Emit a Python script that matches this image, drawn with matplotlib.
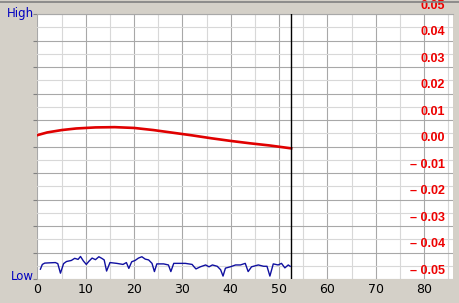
import matplotlib
matplotlib.use('Agg')
import matplotlib.pyplot as plt
from matplotlib.lines import Line2D
import numpy as np

# red trace (right axis, -0.05 .. 0.05)
red_x = [0, 2, 5, 8, 12, 16, 20, 24, 28, 32, 36, 40, 44, 48, 52.5]
red_y = [0.0043, 0.0053, 0.0062, 0.0068, 0.0072, 0.0073, 0.0070, 0.0062,
         0.0052, 0.0042, 0.0031, 0.0021, 0.0012, 0.0004, -0.0007]

# blue trace (left axis, Low=0 .. High=1)
blue_x = [0.6, 1.0, 1.5, 2.5, 3.7, 4.2, 4.75, 5.4, 6.0, 7.0, 7.7, 8.4, 8.9,
          9.5, 10.1, 10.6, 11.3, 12.0, 12.7, 13.3, 13.8, 14.3, 15.0, 16.4,
          17.7, 18.4, 18.9, 19.5, 20.2, 20.9, 21.6, 22.3, 23.0, 23.7, 24.2,
          24.7, 26.1, 27.1, 27.6, 28.2, 29.2, 30.6, 32.0, 32.4, 32.8, 33.7,
          34.8, 35.5, 36.2, 37.2, 37.9, 38.4, 38.9, 39.9, 41.0, 42.0, 43.0,
          43.6, 44.3, 45.7, 46.8, 47.5, 48.1, 48.8, 49.8, 50.5, 51.2, 51.9, 52.3]
blue_y = [0.037, 0.055, 0.060, 0.061, 0.062, 0.058, 0.022, 0.058, 0.066,
          0.070, 0.078, 0.074, 0.085, 0.068, 0.055, 0.066, 0.079, 0.073,
          0.084, 0.078, 0.072, 0.030, 0.062, 0.059, 0.055, 0.062, 0.040,
          0.065, 0.070, 0.079, 0.084, 0.075, 0.072, 0.059, 0.028, 0.057,
          0.057, 0.053, 0.028, 0.059, 0.059, 0.059, 0.055, 0.046, 0.038,
          0.046, 0.053, 0.046, 0.053, 0.048, 0.035, 0.011, 0.041, 0.046,
          0.053, 0.053, 0.059, 0.028, 0.046, 0.053, 0.048, 0.048, 0.011,
          0.057, 0.053, 0.059, 0.042, 0.053, 0.048]

cursor_x = 52.5
x_ticks = [0, 10, 20, 30, 40, 50, 60, 70, 80]
right_ticks = [0.05, 0.04, 0.03, 0.02, 0.01, 0.00, -0.01, -0.02, -0.03, -0.04, -0.05]

BG = '#d4d0c8'
W, H = 460, 303

fig = plt.figure(figsize=(W / 100, H / 100), dpi=100, facecolor=BG)
ax = fig.add_axes([37.5 / W, (H - 279) / H, (453 - 37.5) / W, (279 - 14) / H])
ax.set_facecolor('white')
ax.set_xlim(0, 86)
ax.set_ylim(-0.05, 0.05)

# grid: major darker, minor lighter
ax.set_xticks(x_ticks)
ax.set_xticks(np.arange(5, 86, 10), minor=True)
ax.set_yticks(right_ticks)
ax.set_yticks(np.arange(-0.045, 0.05, 0.01), minor=True)
ax.grid(True, which='major', color='#a8a8a8', linewidth=0.8)
ax.grid(True, which='minor', color='#d8d8d8', linewidth=0.8)
ax.tick_params(axis='x', which='major', length=0, labelsize=9, pad=3)
ax.tick_params(axis='x', which='minor', length=0)
ax.tick_params(axis='y', which='major', length=3, color='#808080',
               labelleft=False)
ax.tick_params(axis='y', which='minor', length=0)
for s in ax.spines.values():
    s.set_visible(False)
ax.spines['top'].set_visible(True)
ax.spines['top'].set_color('#a8a8a8')

# right scale labels drawn inside the plot
for v in right_ticks:
    if v < 0:
        lab = '\u2013 %.2f' % abs(v)
    else:
        lab = '%.2f' % v
    ax.annotate(lab, xy=(84.3, v), xytext=(0, 1.5), textcoords='offset points',
                ha='right', va='bottom', color='#ee0000', fontsize=9,
                fontweight='bold',
                family=['Liberation Sans Narrow', 'Liberation Sans'],
                annotation_clip=False)

ax.plot(red_x, red_y, color='#e00000', linewidth=1.9, zorder=3)
ax.axvline(cursor_x, color='black', linewidth=1.0, zorder=4)

ax2 = ax.twinx()
ax2.set_ylim(0, 1)
ax2.set_yticks([])
for s in ax2.spines.values():
    s.set_visible(False)
ax2.plot(blue_x, blue_y, color='#1010a0', linewidth=1.0, zorder=3)

fig.text(34 / W, 1 - 13 / H, 'High', color='#0000c0', fontsize=8.5,
         ha='right', va='center')
fig.text(34 / W, 1 - 277 / H, 'Low', color='#0000c0', fontsize=8.5,
         ha='right', va='center')

fig.add_artist(Line2D([0, 1], [1 - 1.5 / H, 1 - 1.5 / H], color='#808080',
                      linewidth=1.2))

fig.savefig('out.png', dpi=100, facecolor=BG)
